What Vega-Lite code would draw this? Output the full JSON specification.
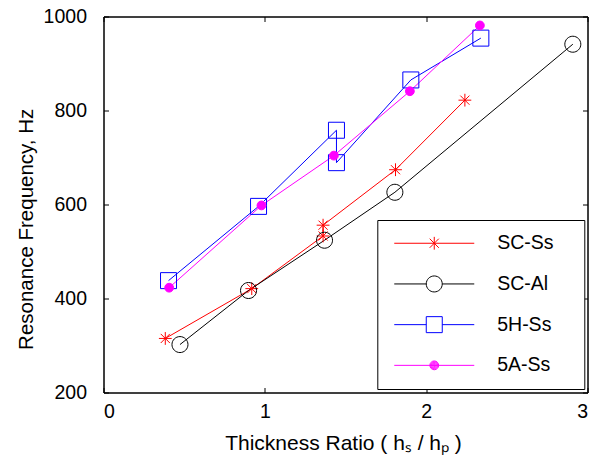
{
  "$schema": "https://vega.github.io/schema/vega-lite/v6.json",
  "width": 484,
  "height": 376,
  "autosize": {"type": "none"},
  "padding": {"left": 103.5, "top": 16.5, "right": 15.5, "bottom": 67.5},
  "background": "white",
  "config": {
    "view": {"stroke": "black", "strokeWidth": 1},
    "axis": {
      "grid": false,
      "domainColor": "black",
      "tickColor": "black",
      "labelColor": "black",
      "titleColor": "black",
      "labelFont": "Liberation Sans",
      "titleFont": "Liberation Sans",
      "labelFontSize": 19.5,
      "titleFontSize": 21,
      "titleFontWeight": "normal",
      "tickSize": -5,
      "tickWidth": 1,
      "domainWidth": 1
    }
  },
  "data": {
    "values": [
      {"series": "SC-Ss", "i": 0, "x": 0.383, "y": 315},
      {"series": "SC-Ss", "i": 1, "x": 0.919, "y": 421},
      {"series": "SC-Ss", "i": 2, "x": 1.361, "y": 533},
      {"series": "SC-Ss", "i": 3, "x": 1.361, "y": 556},
      {"series": "SC-Ss", "i": 4, "x": 1.81, "y": 674},
      {"series": "SC-Ss", "i": 5, "x": 2.24, "y": 822},
      {"series": "SC-Al", "i": 0, "x": 0.474, "y": 302},
      {"series": "SC-Al", "i": 1, "x": 0.899, "y": 417},
      {"series": "SC-Al", "i": 2, "x": 1.37, "y": 524},
      {"series": "SC-Al", "i": 3, "x": 1.806, "y": 626},
      {"series": "SC-Al", "i": 4, "x": 2.909, "y": 941},
      {"series": "5H-Ss", "i": 0, "x": 0.403, "y": 438},
      {"series": "5H-Ss", "i": 1, "x": 0.961, "y": 596},
      {"series": "5H-Ss", "i": 2, "x": 1.444, "y": 758},
      {"series": "5H-Ss", "i": 3, "x": 1.444, "y": 689},
      {"series": "5H-Ss", "i": 4, "x": 1.905, "y": 865},
      {"series": "5H-Ss", "i": 5, "x": 2.339, "y": 954},
      {"series": "5A-Ss", "i": 0, "x": 0.407, "y": 423},
      {"series": "5A-Ss", "i": 1, "x": 0.979, "y": 598},
      {"series": "5A-Ss", "i": 2, "x": 1.428, "y": 704},
      {"series": "5A-Ss", "i": 3, "x": 1.899, "y": 841},
      {"series": "5A-Ss", "i": 4, "x": 2.333, "y": 981}
    ]
  },
  "layer": [
    {
      "mark": {"type": "line", "strokeWidth": 1},
      "encoding": {
        "x": {
          "field": "x", "type": "quantitative",
          "scale": {"domain": [0, 3], "nice": false, "zero": false},
          "axis": {"orient": "bottom", "values": [0, 1, 2, 3], "format": "d", "title": "Thickness Ratio ( hₛ / hₚ )", "labelPadding": 14.5, "titleX": 239.5, "titleY": 57.3, "titleBaseline": "alphabetic"}
        },
        "y": {
          "field": "y", "type": "quantitative",
          "scale": {"domain": [200, 1000], "nice": false, "zero": false},
          "axis": {"orient": "left", "values": [200, 400, 600, 800, 1000], "format": "d", "title": "Resonance Frequency, Hz", "labelPadding": 22, "titleX": -71.2, "titleY": 212.3, "titleBaseline": "alphabetic", "titleFontSize": 20.5}
        },
        "stroke": {
          "field": "series", "type": "nominal",
          "scale": {"domain": ["SC-Ss", "SC-Al", "5H-Ss", "5A-Ss"], "range": ["#ff0000", "#000000", "#0000ff", "#ff00ff"]}
        },
        "order": {"field": "i", "type": "quantitative"}
      }
    },
    {
      "mark": {"type": "point", "opacity": 0, "strokeWidth": 1, "size": 256},
      "encoding": {
        "x": {
          "field": "x", "type": "quantitative",
          "scale": {"domain": [0, 3], "nice": false, "zero": false},
          "axis": {"orient": "top", "values": [0, 1, 2, 3], "labels": false, "title": null}
        },
        "y": {
          "field": "y", "type": "quantitative",
          "scale": {"domain": [200, 1000], "nice": false, "zero": false},
          "axis": {"orient": "right", "values": [200, 400, 600, 800, 1000], "labels": false, "title": null}
        },
        "shape": {
          "field": "series", "type": "nominal",
          "scale": {
            "domain": ["SC-Ss", "SC-Al", "5H-Ss", "5A-Ss"],
            "range": [
              "M-5 0H5M0 -0.8V0.8M-0.57 -0.57L0.57 0.57M-0.57 0.57L0.57 -0.57M16.8 0",
              "M-5 0H-1M1 0H5M1 0A1 1 0 1 1 -1 0A1 1 0 1 1 1 0ZM16.8 0",
              "M-5 0H-1M1 0H5M-1 -1H1V1H-1ZM16.8 0",
              "M-5 0H5M0.55 0A0.55 0.55 0 1 1 -0.55 0A0.55 0.55 0 1 1 0.55 0ZM0.45 0A0.45 0.45 0 1 1 -0.45 0A0.45 0.45 0 1 1 0.45 0ZM0.35 0A0.35 0.35 0 1 1 -0.35 0A0.35 0.35 0 1 1 0.35 0ZM0.25 0A0.25 0.25 0 1 1 -0.25 0A0.25 0.25 0 1 1 0.25 0ZM0.15 0A0.15 0.15 0 1 1 -0.15 0A0.15 0.15 0 1 1 0.15 0ZM0.06 0A0.06 0.06 0 1 1 -0.06 0A0.06 0.06 0 1 1 0.06 0ZM16.8 0"
            ]
          },
          "legend": {
            "title": null,
            "orient": "none",
            "legendX": 273.8,
            "legendY": 203.5,
            "padding": 13.5,
            "fillColor": "white",
            "strokeColor": "black",
            "cornerRadius": 0,
            "symbolSize": 256,
            "symbolStrokeWidth": 1,
            "symbolOpacity": 1,
            "symbolOffset": 33.7,
            "labelOffset": 53.2,
            "labelFont": "Liberation Sans",
            "labelFontSize": 19.5,
            "labelColor": "black",
            "rowPadding": 19.7
          }
        },
        "stroke": {
          "field": "series", "type": "nominal",
          "scale": {"domain": ["SC-Ss", "SC-Al", "5H-Ss", "5A-Ss"], "range": ["#ff0000", "#000000", "#0000ff", "#ff00ff"]}
        },
        "fill": {
          "field": "series", "type": "nominal",
          "scale": {"domain": ["SC-Ss", "SC-Al", "5H-Ss", "5A-Ss"], "range": ["transparent", "transparent", "transparent", "#ff00ff"]}
        }
      }
    },
    {
      "transform": [{"filter": "datum.series === 'SC-Ss'"}],
      "mark": {"type": "point", "shape": "M-0.8 0H0.8M0 -0.8V0.8M-0.57 -0.57L0.57 0.57M-0.57 0.57L0.57 -0.57", "size": 256, "stroke": "#ff0000", "fill": "transparent", "opacity": 1, "strokeWidth": 1},
      "encoding": {
        "x": {"field": "x", "type": "quantitative", "scale": {"domain": [0, 3], "nice": false, "zero": false}, "axis": null},
        "y": {"field": "y", "type": "quantitative", "scale": {"domain": [200, 1000], "nice": false, "zero": false}, "axis": null}
      }
    },
    {
      "transform": [{"filter": "datum.series === 'SC-Al'"}],
      "mark": {"type": "point", "shape": "M1 0A1 1 0 1 1 -1 0A1 1 0 1 1 1 0Z", "size": 256, "stroke": "#000000", "fill": "transparent", "opacity": 1, "strokeWidth": 1},
      "encoding": {
        "x": {"field": "x", "type": "quantitative", "scale": {"domain": [0, 3], "nice": false, "zero": false}, "axis": null},
        "y": {"field": "y", "type": "quantitative", "scale": {"domain": [200, 1000], "nice": false, "zero": false}, "axis": null}
      }
    },
    {
      "transform": [{"filter": "datum.series === '5H-Ss'"}],
      "mark": {"type": "point", "shape": "M-1 -1H1V1H-1Z", "size": 256, "stroke": "#0000ff", "fill": "transparent", "opacity": 1, "strokeWidth": 1},
      "encoding": {
        "x": {"field": "x", "type": "quantitative", "scale": {"domain": [0, 3], "nice": false, "zero": false}, "axis": null},
        "y": {"field": "y", "type": "quantitative", "scale": {"domain": [200, 1000], "nice": false, "zero": false}, "axis": null}
      }
    },
    {
      "transform": [{"filter": "datum.series === '5A-Ss'"}],
      "mark": {"type": "point", "shape": "M0.55 0A0.55 0.55 0 1 1 -0.55 0A0.55 0.55 0 1 1 0.55 0Z", "size": 256, "filled": true, "stroke": "#ff00ff", "fill": "#ff00ff", "opacity": 1, "strokeWidth": 1},
      "encoding": {
        "x": {"field": "x", "type": "quantitative", "scale": {"domain": [0, 3], "nice": false, "zero": false}, "axis": null},
        "y": {"field": "y", "type": "quantitative", "scale": {"domain": [200, 1000], "nice": false, "zero": false}, "axis": null}
      }
    }
  ],
  "resolve": {"axis": {"x": "independent", "y": "independent"}}
}
